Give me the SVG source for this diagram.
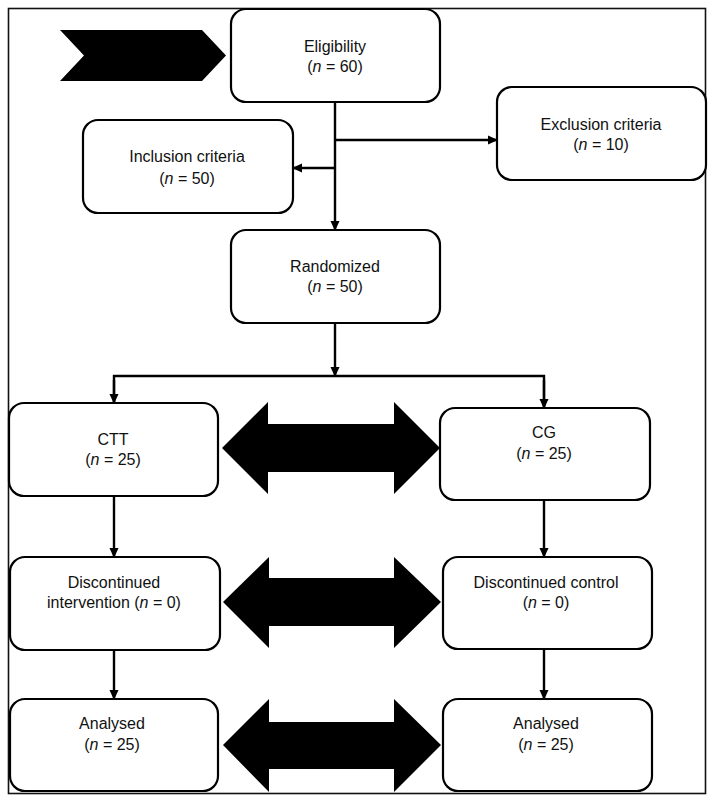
<svg xmlns="http://www.w3.org/2000/svg" width="714" height="800" viewBox="0 0 714 800">
<style>
.box{fill:#fff;stroke:#000;stroke-width:2.2}
.t{font-family:"Liberation Sans",Arial,sans-serif;font-size:16px;fill:#111;text-anchor:middle}
.i{font-style:italic}
.c{fill:none;stroke:#000;stroke-width:2.4}
.big{fill:#000}
</style>
<defs>
<marker id="ah" markerUnits="userSpaceOnUse" markerWidth="10" markerHeight="10" viewBox="0 0 10 10" refX="9" refY="5" orient="auto">
<path d="M0,0.5 L10,5 L0,9.5 Z" fill="#000"/>
</marker>
</defs>
<rect x="0" y="0" width="714" height="800" fill="#fff"/>
<rect x="8.5" y="8.5" width="697" height="785" fill="none" stroke="#111" stroke-width="1.6"/>
<g id="chevron"><polygon class="big" points="60,30 202,30 226,55.5 202,81 60,81 84,55.5"/></g>
<g id="connectors">
<line class="c" x1="335" y1="102" x2="335" y2="230" marker-end="url(#ah)"/>
<line class="c" x1="335" y1="140" x2="497" y2="140" marker-end="url(#ah)"/>
<line class="c" x1="335" y1="168" x2="293" y2="168" marker-end="url(#ah)"/>
<line class="c" x1="335" y1="323" x2="335" y2="376" marker-end="url(#ah)"/>
<polyline class="c" points="114,403 114,376 544,376 544,408"/>
<line class="c" x1="114" y1="380" x2="114" y2="403" marker-end="url(#ah)"/>
<line class="c" x1="544" y1="380" x2="544" y2="408" marker-end="url(#ah)"/>
<line class="c" x1="114" y1="496" x2="114" y2="557" marker-end="url(#ah)"/>
<line class="c" x1="544" y1="500" x2="544" y2="557" marker-end="url(#ah)"/>
<line class="c" x1="114" y1="650" x2="114" y2="699" marker-end="url(#ah)"/>
<line class="c" x1="544" y1="650" x2="544" y2="699" marker-end="url(#ah)"/>
</g>
<g id="double-arrows">
<polygon class="big" points="222,448 268,402 268,424 394,424 394,402 440,448 394,494 394,472 268,472 268,494"/>
<polygon class="big" points="223,602 269,557 269,578 394,578 394,557 441,602 394,648 394,626 269,626 269,648"/>
<polygon class="big" points="223,745 269,699 269,722 394,722 394,699 441,745 394,792 394,769 269,769 269,792"/>
</g>
<g id="eligibility"><rect class="box" x="231" y="9" width="209" height="93" rx="15"/>
<text class="t" x="335" y="52">Eligibility</text><text class="t" x="335" y="72">(<tspan class="i">n</tspan> = 60)</text></g>
<g id="inclusion"><rect class="box" x="83" y="120" width="210" height="93" rx="15"/>
<text class="t" x="187" y="162">Inclusion criteria</text><text class="t" x="187" y="184">(<tspan class="i">n</tspan> = 50)</text></g>
<g id="exclusion"><rect class="box" x="497" y="87" width="209" height="93" rx="15"/>
<text class="t" x="601" y="130">Exclusion criteria</text><text class="t" x="601" y="150">(<tspan class="i">n</tspan> = 10)</text></g>
<g id="randomized"><rect class="box" x="231" y="230" width="209" height="93" rx="15"/>
<text class="t" x="335" y="272">Randomized</text><text class="t" x="335" y="292">(<tspan class="i">n</tspan> = 50)</text></g>
<g id="ctt"><rect class="box" x="9" y="403" width="209" height="93" rx="15"/>
<text class="t" x="113" y="445">CTT</text><text class="t" x="113" y="465">(<tspan class="i">n</tspan> = 25)</text></g>
<g id="cg"><rect class="box" x="440" y="408" width="210" height="92" rx="15"/>
<text class="t" x="544" y="438">CG</text><text class="t" x="544" y="459">(<tspan class="i">n</tspan> = 25)</text></g>
<g id="disc-int"><rect class="box" x="10" y="557" width="210" height="93" rx="15"/>
<text class="t" x="114" y="588">Discontinued</text><text class="t" x="114" y="608">intervention (<tspan class="i">n</tspan> = 0)</text></g>
<g id="disc-ctrl"><rect class="box" x="443" y="557" width="209" height="92" rx="15"/>
<text class="t" x="546" y="588">Discontinued control</text><text class="t" x="546" y="608">(<tspan class="i">n</tspan> = 0)</text></g>
<g id="analysed-l"><rect class="box" x="10" y="699" width="208" height="92" rx="15"/>
<text class="t" x="112" y="729">Analysed</text><text class="t" x="112" y="750">(<tspan class="i">n</tspan> = 25)</text></g>
<g id="analysed-r"><rect class="box" x="443" y="699" width="209" height="92" rx="15"/>
<text class="t" x="546" y="729">Analysed</text><text class="t" x="546" y="750">(<tspan class="i">n</tspan> = 25)</text></g>
</svg>
